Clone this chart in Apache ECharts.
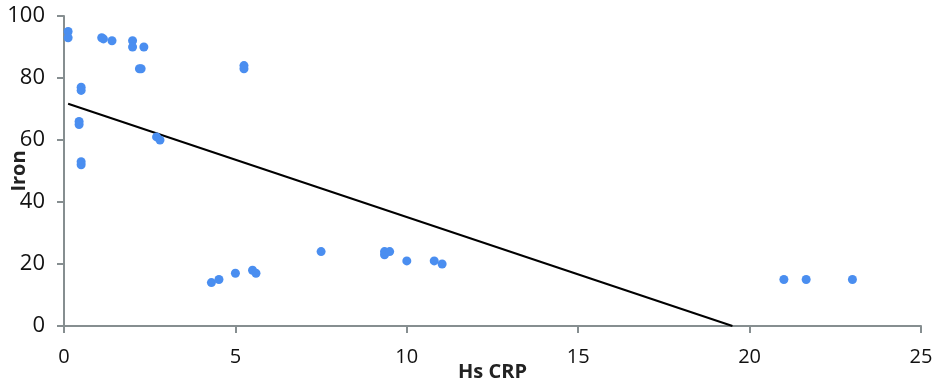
<!DOCTYPE html>
<html>
<head>
<meta charset="utf-8">
<script src="https://cdn.jsdelivr.net/npm/echarts@6/dist/echarts.min.js"></script>
<style>
html,body{margin:0;padding:0;background:#fff;}
#chart{width:941px;height:386px;}
</style>
</head>
<body>
<div id="chart"></div>
<script>
// Hs CRP (x) values
const crpValues = [0.12, 0.12, 1.1, 1.15, 1.4, 2.0, 2.0, 2.33, 2.2, 2.25, 5.25, 5.25,
  0.5, 0.5, 0.44, 0.44, 0.5, 0.5, 2.7, 2.8,
  4.3, 4.52, 5.0, 5.5, 5.6, 7.5, 9.35, 9.35, 9.5, 10.0, 10.8, 11.03,
  21.0, 21.65, 23.0];
// Iron (y) values
const ironValues = [95, 93, 93, 92.6, 92, 92, 90, 90, 83, 83, 84, 83,
  77, 76, 66, 65, 53, 52, 61, 60,
  14, 15, 17, 18, 17, 24, 24, 23, 24, 21, 21, 20,
  15, 15, 15];
// Linear trendline end points
const trendX = [0.12, 19.5];
const trendY = [71.7, 0];
const xTicks = [0, 5, 10, 15, 20, 25];
const yTicks = [0, 20, 40, 60, 80, 100];

const points = crpValues.map((x, i) => [x, ironValues[i]]);
const trend = trendX.map((x, i) => [x, trendY[i]]);

const chart = echarts.init(document.getElementById('chart'), null, {renderer: 'canvas'});
const axisColor = '#868e90';
chart.setOption({
  animation: false,
  grid: {left: 64, right: 20, top: 16, bottom: 60, containLabel: false, outerBoundsMode: 'none'},
  xAxis: {
    type: 'value', min: 0, max: 25, interval: 5,
    name: 'Hs CRP', nameLocation: 'middle', nameGap: 36, nameMoveOverlap: false,
    nameTextStyle: {fontFamily: 'Open Sans', fontWeight: 'bold', fontSize: 20, color: '#222'},
    axisLine: {show: true, lineStyle: {color: axisColor, width: 2}},
    axisTick: {show: true, length: 7, lineStyle: {color: axisColor, width: 2}},
    axisLabel: {fontFamily: 'Open Sans', fontSize: 20, color: '#111', margin: 21},
    splitLine: {show: false}
  },
  yAxis: {
    type: 'value', min: 0, max: 100, interval: 20,
    name: 'Iron', nameLocation: 'middle', nameGap: 35, nameRotate: 90, nameMoveOverlap: false,
    nameTextStyle: {fontFamily: 'Open Sans', fontWeight: 'bold', fontSize: 20, color: '#222'},
    axisLine: {show: true, lineStyle: {color: axisColor, width: 2}},
    axisTick: {show: true, length: 7, lineStyle: {color: axisColor, width: 2}},
    axisLabel: {fontFamily: 'Open Sans', fontSize: 22, color: '#111', margin: 19},
    splitLine: {show: false}
  },
  series: [
    {
      type: 'scatter', data: points, symbol: 'circle', symbolSize: 9,
      itemStyle: {color: '#4a8ef0', opacity: 1}, z: 3
    },
    {
      type: 'line', data: trend, symbol: 'none',
      lineStyle: {color: '#000', width: 2}, z: 2
    }
  ]
});
</script>
</body>
</html>
